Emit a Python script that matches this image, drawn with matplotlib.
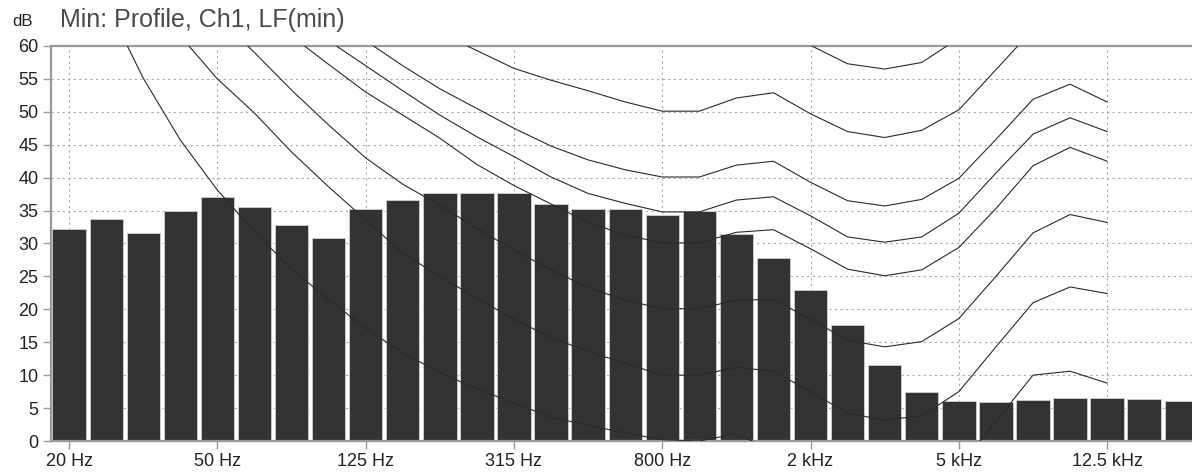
import matplotlib
matplotlib.use('Agg')
import matplotlib.pyplot as plt
import numpy as np

plt.rcParams['font.family'] = ['Liberation Sans', 'DejaVu Sans']

# 1/3 octave bands, 20 Hz .. 20 kHz
bands = ['20', '25', '31.5', '40', '50', '63', '80', '100', '125', '160',
         '200', '250', '315', '400', '500', '630', '800', '1k', '1.25k', '1.6k',
         '2k', '2.5k', '3.15k', '4k', '5k', '6.3k', '8k', '10k', '12.5k', '16k', '20k']

levels = [32.2, 33.7, 31.6, 34.9, 37.0, 35.5, 32.8, 30.8, 35.3, 36.6,
          37.7, 37.7, 37.7, 36.0, 35.2, 35.3, 34.4, 34.9, 31.4, 27.8,
          22.9, 17.6, 11.5, 7.5, 6.1, 5.9, 6.3, 6.6, 6.6, 6.4, 6.1]

# reference curves, 20 Hz .. 12.5 kHz
curve_a = [125, 119, 112, 105, 98, 92, 86, 81, 77, 74, 72, 70, 67, 65, 63, 61.5,
           60.6, 60.6, 62.0, 62.8, 60.1, 57.3, 56.5, 57.5, 61.2, 67, 72, 74.5, 72]
curve_b = [115, 108, 101, 94, 87.5, 81.5, 76, 71, 66.5, 65, 62.0, 59.3, 56.6, 54.8,
           53.2, 51.5, 50.1, 50.1, 52.1, 52.9, 49.7, 47.0, 46.1, 47.2, 50.3, 56.4,
           62.5, 65.0, 63.0]
curve_c = [106, 99, 92, 85, 79, 73.5, 69, 64.8, 60.8, 57.0, 53.5, 50.5, 47.5, 44.8,
           42.7, 41.2, 40.1, 40.1, 41.9, 42.5, 39.3, 36.5, 35.7, 36.7, 39.9, 45.8,
           51.9, 54.2, 51.5]
curve_d = [103, 95, 87, 80, 74, 69, 64.8, 60.8, 57.0, 53.2, 49.5, 46.2, 43.2, 40.1,
           37.6, 36.1, 34.8, 34.8, 36.6, 37.1, 34.2, 31.0, 30.2, 31.0, 34.6, 40.7,
           46.6, 49.1, 47.0]
curve_e = [100, 92, 84, 77, 72, 67, 61.5, 57.2, 53.0, 49.5, 46.0, 42.0, 38.8, 36.0,
           33.2, 31.3, 30.1, 30.1, 31.7, 32.1, 29.2, 26.1, 25.1, 26.0, 29.4, 35.3,
           41.8, 44.6, 42.5]
curve_f = [95, 87, 79, 71, 64.5, 59.0, 53.3, 48.0, 43.0, 39.0, 35.8, 32.3, 29.0, 26.0,
           23.3, 21.4, 20.1, 20.1, 21.4, 21.5, 18.5, 15.3, 14.3, 15.1, 18.6, 25.0,
           31.6, 34.4, 33.2]
curve_g = [88, 79, 70, 61.5, 55.0, 49.8, 43.9, 38.6, 33.6, 28.5, 25.0, 21.7, 18.5,
           15.7, 13.6, 11.8, 10.0, 10.0, 11.2, 10.6, 7.5, 4.2, 3.2, 3.8, 7.5, 14.3,
           21.0, 23.4, 22.4]
curve_h = [78, 66.5, 55.1, 45.7, 38.1, 31.8, 26.1, 21.5, 17.1, 13.4, 10.4, 7.9, 5.8,
           3.6, 2.4, 1.2, 0.2, 0.0, 1.1, -1.5, -4.5, -7.0, -8.0, -7.5, -4.0, 3.0,
           10.0, 10.6, 8.8]

tick_idx = [0, 4, 8, 12, 16, 20, 24, 28]
tick_labels = ['20 Hz', '50 Hz', '125 Hz', '315 Hz', '800 Hz', '2 kHz', '5 kHz', '12.5 kHz']

fig = plt.figure(figsize=(11.92, 4.74), dpi=100)
ax = fig.add_axes([51 / 1192, 1 - 441 / 474, 1 - 51 / 1192, 395 / 474])

x = np.arange(len(bands))
ax.bar(x, levels, width=0.9, color='#333333', edgecolor='#c8c8c8',
       linewidth=0.7, zorder=2)

xc = np.arange(len(curve_a))
for c in [curve_a, curve_b, curve_c, curve_d, curve_e, curve_f, curve_g, curve_h]:
    ax.plot(xc, c, color='#2a2a2a', lw=0.8, zorder=3)

ax.set_xlim(-0.49, 30.29)
ax.set_ylim(0, 60)
ax.set_yticks(np.arange(0, 61, 5))
ax.set_xticks(tick_idx)
ax.set_xticklabels(tick_labels)

ax.grid(True, color='#a8a8a8', linestyle=(0, (2, 3)), linewidth=0.8, zorder=0)
ax.set_axisbelow(True)

for s in ['left', 'bottom', 'top']:
    ax.spines[s].set_color('#9a9a9a')
    ax.spines[s].set_linewidth(1.6)
ax.spines['right'].set_visible(False)

ax.tick_params(axis='both', direction='out', length=6, width=1, color='#9a9a9a',
               labelsize=13, labelcolor='#222222')
ax.tick_params(axis='y', pad=3)
ax.tick_params(axis='x', pad=3)

fig.text(60 / 1192, 1 - 20 / 474, 'Min: Profile, Ch1, LF(min)', fontsize=18,
         color='#4a4a4a', va='center', ha='left')
fig.text(12 / 1192, 1 - 21 / 474, 'dB', fontsize=12, color='#222222',
         va='center', ha='left')

fig.savefig('out.png', dpi=100)
